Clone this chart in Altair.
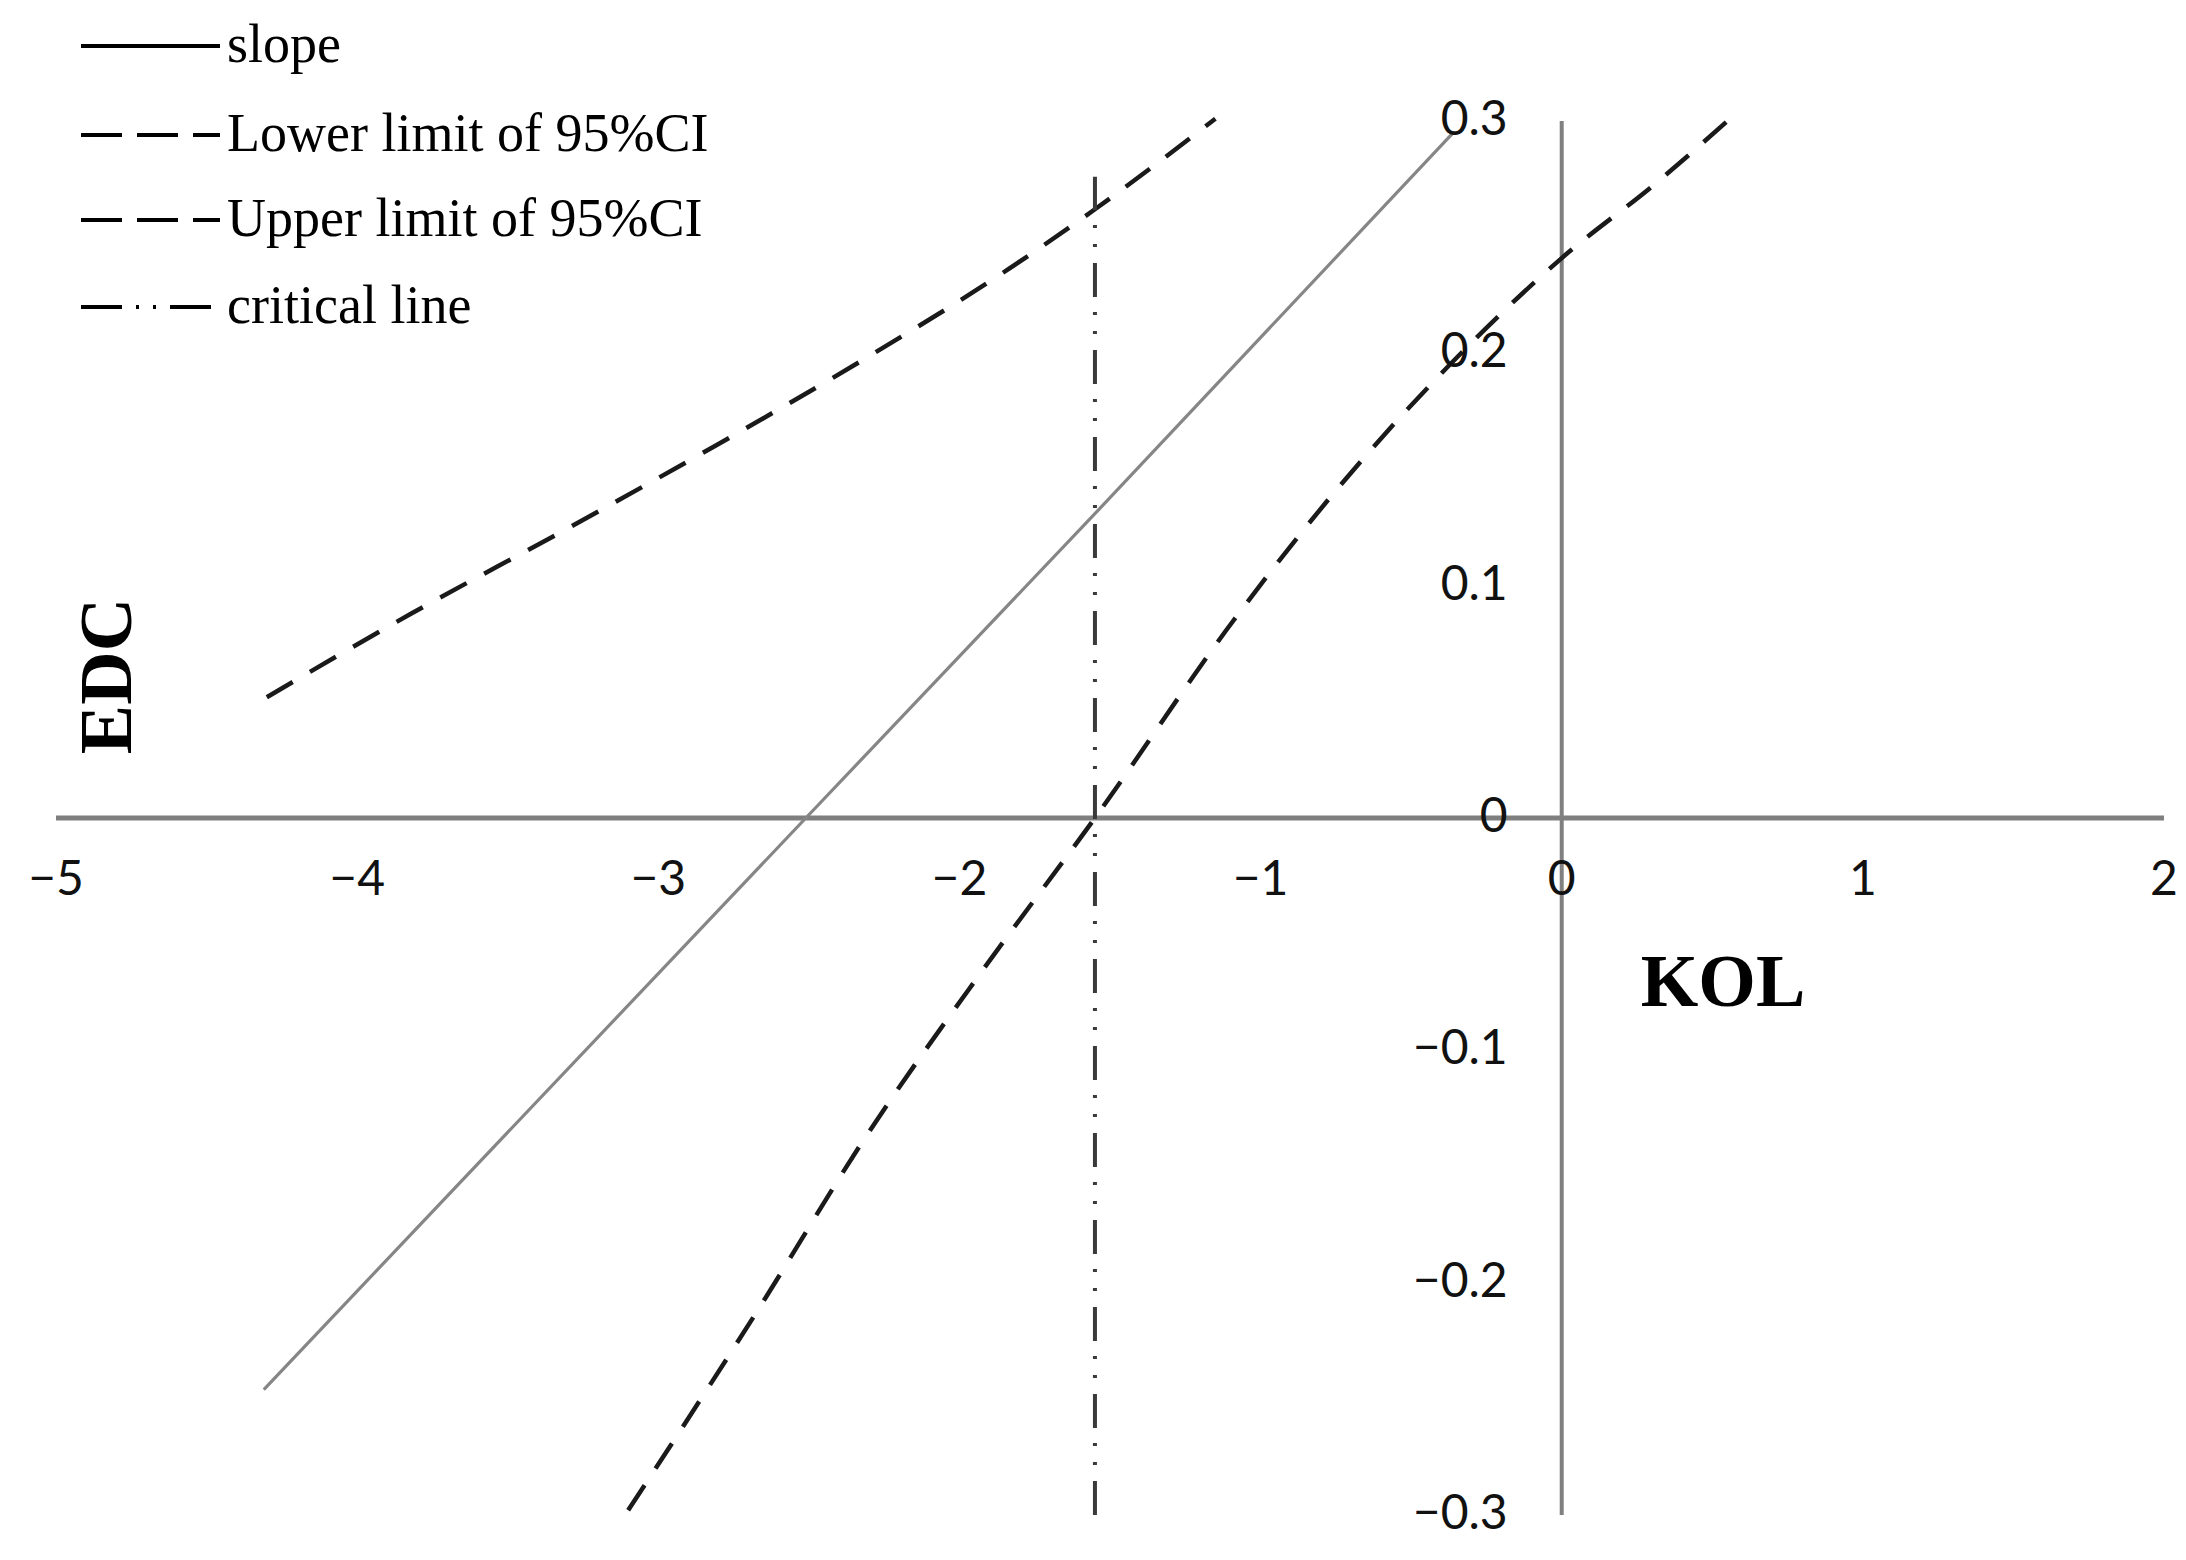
import altair as alt
import pandas as pd

# ---- data ----
slope_x = [-4.31, -2.51, -1.55, -0.36]
slope_y = [-0.246, 0.0, 0.131, 0.295]

upper_x = [-4.30, -3.82, -3.31, -2.80, -2.31, -1.84, -1.55, -1.15]
upper_y = [0.052, 0.088, 0.124, 0.161, 0.198, 0.236, 0.262, 0.301]

lower_x = [-3.10, -2.68, -2.31, -1.92, -1.55, -1.09, -0.73, -0.38, 0.0, 0.32, 0.55]
lower_y = [-0.298, -0.214, -0.137, -0.065, 0.0, 0.085, 0.144, 0.194, 0.241, 0.274, 0.300]

critical_x = -1.55
critical_y = [-0.3, 0.276]

x_ticks = [-5, -4, -3, -2, -1, 0, 1, 2]
x_tick_labels = ["\u22125", "\u22124", "\u22123", "\u22122", "\u22121", "0", "1", "2"]
y_ticks = [0.3, 0.2, 0.1, 0.0, -0.1, -0.2, -0.3]
y_tick_labels = ["0.3", "0.2", "0.1", "0", "\u22120.1", "\u22120.2", "\u22120.3"]

x_domain = [-5, 2]
y_domain = [-0.3, 0.3]

legend_names = ["slope", "Lower limit of 95%CI", "Upper limit of 95%CI", "critical line"]

# ---- scales ----
xs = alt.Scale(domain=x_domain, nice=False, zero=False)
ys = alt.Scale(domain=y_domain, nice=False, zero=False)

def X(field="x"):
    return alt.X(f"{field}:Q", scale=xs, axis=None)

def Y(field="y"):
    return alt.Y(f"{field}:Q", scale=ys, axis=None)

# axis lines through zero
h_axis = alt.Chart(pd.DataFrame({"x": [x_domain[0]], "x2": [x_domain[1]], "y": [0.0]})).mark_rule(
    color="#7f7f7f", strokeWidth=5
).encode(x=X(), x2="x2:Q", y=Y())

v_axis = alt.Chart(pd.DataFrame({"x": [0.0], "y": [y_domain[0]], "y2": [y_domain[1]]})).mark_rule(
    color="#808080", strokeWidth=4
).encode(x=X(), y=Y(), y2="y2:Q")

slope_line = alt.Chart(pd.DataFrame({"x": slope_x, "y": slope_y})).mark_line(
    color="#868686", strokeWidth=3.2
).encode(x=X(), y=Y())

upper_line = alt.Chart(pd.DataFrame({"x": upper_x, "y": upper_y})).mark_line(
    color="#1a1a1a", strokeWidth=4.5, strokeDash=[30, 20], interpolate="monotone"
).encode(x=X(), y=Y())

lower_line = alt.Chart(pd.DataFrame({"x": lower_x, "y": lower_y})).mark_line(
    color="#1a1a1a", strokeWidth=4.5, strokeDash=[30, 20], interpolate="monotone"
).encode(x=X(), y=Y())

critical = alt.Chart(pd.DataFrame({"x": [critical_x], "y": [critical_y[0]], "y2": [critical_y[1]]})).mark_rule(
    color="#3a3a3a", strokeWidth=4, strokeDash=[34, 16, 3, 16, 3, 15]
).encode(x=X(), y=Y(), y2="y2:Q")

x_labels = alt.Chart(pd.DataFrame({"x": x_ticks, "y": [0.0] * len(x_ticks), "t": x_tick_labels})).mark_text(
    font="Lato", fontSize=48, color="#111111", dy=63, baseline="middle", align="center"
).encode(x=X(), y=Y(), text="t:N")

y_labels = alt.Chart(pd.DataFrame({"x": [0.0] * len(y_ticks), "y": y_ticks, "t": y_tick_labels})).mark_text(
    font="Lato", fontSize=48, color="#111111", dx=-54, baseline="middle", align="right"
).encode(x=X(), y=Y(), text="t:N")

one = alt.Data(values=[{"a": 1}])

edc = alt.Chart(one).mark_text(
    text="EDC", font="Liberation Serif", fontWeight="bold", fontSize=74, angle=270,
    align="center", baseline="middle", color="black"
).encode(x=alt.value(53), y=alt.value(555))

kol = alt.Chart(one).mark_text(
    text="KOL", font="Liberation Serif", fontWeight="bold", fontSize=74,
    align="center", baseline="middle", color="black"
).encode(x=alt.value(1667), y=alt.value(863))

# legend (top-left, in the padding)
legend_rows = [-75, 14, 99, 186]
legend_dash = [[1, 0], [41, 15], [41, 15], [41, 14, 3, 14, 3, 14]]
legend_layers = []
for name, yy, dash in zip(legend_names, legend_rows, legend_dash):
    legend_layers.append(
        alt.Chart(one).mark_rule(color="black", strokeWidth=4, strokeDash=dash).encode(
            x=alt.value(25), x2=alt.value(164), y=alt.value(yy)
        )
    )
    legend_layers.append(
        alt.Chart(one).mark_text(
            text=name, font="Liberation Serif", fontSize=54, align="left", baseline="middle", color="black"
        ).encode(x=alt.value(171), y=alt.value(yy))
    )

chart = alt.layer(
    h_axis, v_axis, slope_line, upper_line, lower_line, critical,
    x_labels, y_labels, edc, kol, *legend_layers
).properties(
    width=2108, height=1394,
    padding={"left": 48, "top": 113, "right": 14, "bottom": 37},
    autosize=alt.AutoSizeParams(type="none"),
    background="white",
).configure_view(stroke=None, strokeWidth=0)

chart.save("out.html", embed_options={"renderer": "svg", "actions": False})
